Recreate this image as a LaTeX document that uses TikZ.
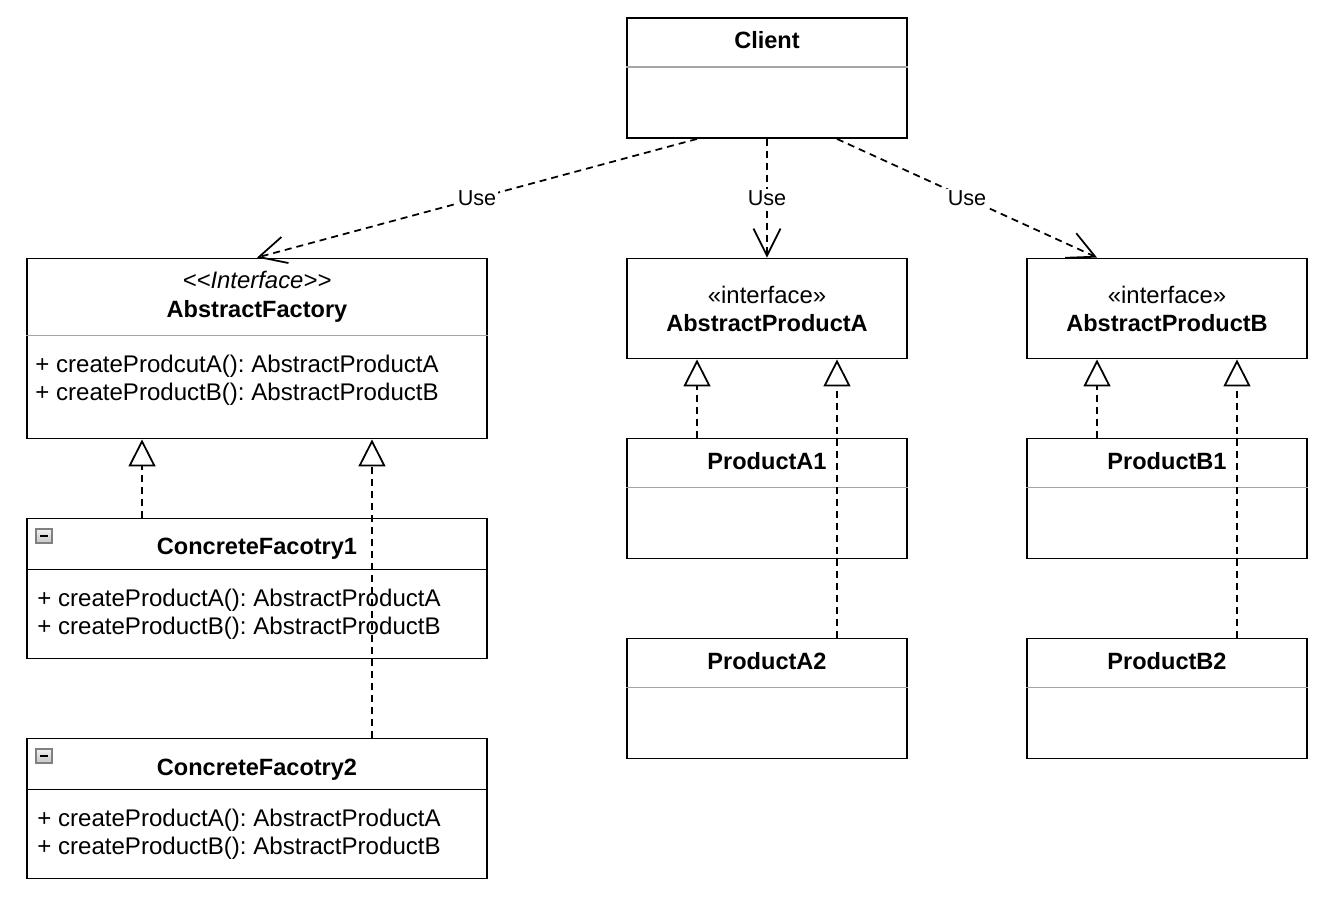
\documentclass[tikz,border=0pt]{standalone}
\usepackage{fontspec}
\setmainfont{Liberation Sans}
\usetikzlibrary{arrows.meta,positioning}

\tikzset{
  classbox/.style={rectangle,draw,line width=1.1pt,inner sep=0pt},
  divider/.style={draw=gray!70,line width=0.8pt},
  blackdivider/.style={draw,line width=1pt},
  title/.style={anchor=base,inner sep=0pt,font=\fontsize{13.4}{16}\selectfont\bfseries},
  stereo/.style={anchor=base,inner sep=0pt,font=\fontsize{13.6}{16}\selectfont},
  member/.style={anchor=base west,inner sep=0pt,font=\fontsize{13.7}{16}\selectfont},
  uselabel/.style={fill=white,inner sep=1pt,font=\fontsize{12.3}{14}\selectfont},
  use/.style={line width=1pt,dash pattern=on 0.14cm off 0.1cm,
    -{Straight Barb[length=0.54cm,width=0.54cm]}},
  realize/.style={line width=1pt,dash pattern=on 0.14cm off 0.1cm,
    -{Triangle[open,length=0.54cm,width=0.54cm]}},
  collapser/.style={draw=gray,line width=0.6pt,top color=gray!10,bottom color=gray!45}
}

\begin{document}
\frenchspacing
\begin{tikzpicture}[x=0.02cm,y=-0.02cm]
  \useasboundingbox (0,0) rectangle (1330,902);

  % client
  \node[classbox,minimum width=5.6cm,minimum height=2.4cm] (client) at (767,78) {};
  \draw[divider] ([yshift=-1cm]client.north west) -- ([yshift=-1cm]client.north east);
  \node[title] (clientname) at (767,49) {Client};

  % factory side
  \node[classbox,minimum width=9.2cm,minimum height=3.6cm] (factory) at (257,348.5) {};
  \draw[divider] ([yshift=-1.56cm]factory.north west) -- ([yshift=-1.56cm]factory.north east);
  \node[stereo] (factorystereo) at (257,289) {\itshape <\kern0pt<Interface>\kern0pt>};
  \node[title] (factoryname) at (257,318) {AbstractFactory};
  \node[member] (factorya) at (35,373) {+ createProdcutA(): AbstractProductA};
  \node[member] (factoryb) at (35,401) {+ createProductB(): AbstractProductB};

  \node[classbox,minimum width=9.2cm,minimum height=2.8cm] (cf1) at (257,588.5) {};
  \draw[blackdivider] ([yshift=-1.04cm]cf1.north west) -- ([yshift=-1.04cm]cf1.north east);
  \draw[collapser] (36,529) rectangle (52,543);
  \draw[line width=1pt] (40,536) -- (48,536);
  \node[title] (cf1name) at (257,555) {ConcreteFacotry1};
  \node[member] (cf1a) at (37,606) {+ createProductA(): AbstractProductA};
  \node[member] (cf1b) at (37,634) {+ createProductB(): AbstractProductB};

  \node[classbox,minimum width=9.2cm,minimum height=2.8cm] (cf2) at (257,808.5) {};
  \draw[blackdivider] ([yshift=-1.04cm]cf2.north west) -- ([yshift=-1.04cm]cf2.north east);
  \draw[collapser] (36,749) rectangle (52,763);
  \draw[line width=1pt] (40,756) -- (48,756);
  \node[title] (cf2name) at (257,775) {ConcreteFacotry2};
  \node[member] (cf2a) at (37,826) {+ createProductA(): AbstractProductA};
  \node[member] (cf2b) at (37,854) {+ createProductB(): AbstractProductB};

  % products A
  \node[classbox,minimum width=5.6cm,minimum height=2cm] (apa) at (767,308.5) {};
  \node[stereo] (apastereo) at (767,304) {«interface»};
  \node[title] (apaname) at (767,332) {AbstractProductA};

  \node[classbox,minimum width=5.6cm,minimum height=2.4cm] (pa1) at (767,498.5) {};
  \draw[divider] ([yshift=-1cm]pa1.north west) -- ([yshift=-1cm]pa1.north east);
  \node[title] (pa1name) at (767,470) {ProductA1};

  \node[classbox,minimum width=5.6cm,minimum height=2.4cm] (pa2) at (767,698.5) {};
  \draw[divider] ([yshift=-1cm]pa2.north west) -- ([yshift=-1cm]pa2.north east);
  \node[title] (pa2name) at (767,669) {ProductA2};

  % products B
  \node[classbox,minimum width=5.6cm,minimum height=2cm] (apb) at (1167,308.5) {};
  \node[stereo] (apbstereo) at (1167,304) {«interface»};
  \node[title] (apbname) at (1167,332) {AbstractProductB};

  \node[classbox,minimum width=5.6cm,minimum height=2.4cm] (pb1) at (1167,498.5) {};
  \draw[divider] ([yshift=-1cm]pb1.north west) -- ([yshift=-1cm]pb1.north east);
  \node[title] (pb1name) at (1167,470) {ProductB1};

  \node[classbox,minimum width=5.6cm,minimum height=2.4cm] (pb2) at (1167,698.5) {};
  \draw[divider] ([yshift=-1cm]pb2.north west) -- ([yshift=-1cm]pb2.north east);
  \node[title] (pb2name) at (1167,669) {ProductB2};

  % use
  \draw[use] ([xshift=-1.4cm]client.south) -- node[uselabel] {Use} (factory.north);
  \draw[use] (client.south) -- node[uselabel] {Use} (apa.north);
  \draw[use] ([xshift=1.4cm]client.south) -- node[uselabel] {Use} ([xshift=-1.4cm]apb.north);

  % realization
  \draw[realize] ([xshift=-2.3cm]cf1.north) -- ([xshift=-2.3cm]factory.south);
  \draw[realize] ([xshift=2.3cm]cf2.north) -- ([xshift=2.3cm]factory.south);
  \draw[realize] ([xshift=-1.4cm]pa1.north) -- ([xshift=-1.4cm]apa.south);
  \draw[realize] ([xshift=1.4cm]pa2.north) -- ([xshift=1.4cm]apa.south);
  \draw[realize] ([xshift=-1.4cm]pb1.north) -- ([xshift=-1.4cm]apb.south);
  \draw[realize] ([xshift=1.4cm]pb2.north) -- ([xshift=1.4cm]apb.south);

\end{tikzpicture}
\end{document}
